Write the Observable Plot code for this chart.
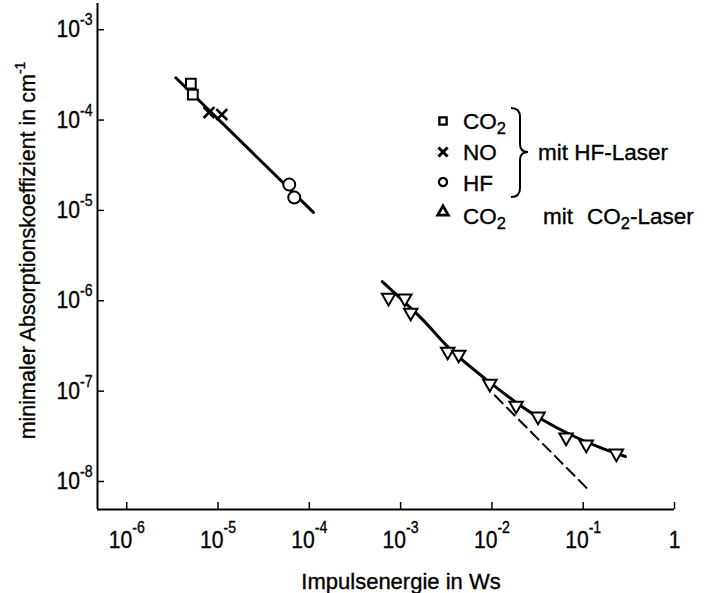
<!DOCTYPE html>
<html><head><meta charset="utf-8">
<script src="https://cdn.jsdelivr.net/npm/d3@7"></script>
<script src="https://cdn.jsdelivr.net/npm/@observablehq/plot@0.6"></script>
<style>body{margin:0;background:#fff;} #chart svg{display:block;} #chart svg text{stroke:black;stroke-width:0.35px;}</style>
</head><body><div id="chart"></div>
<script>
// --- HF-laser measurements (pulse energy in Ws, min. absorption coefficient in cm^-1)
const co2HF_E = [5.04e-6, 5.3e-6];
const co2HF_A = [2.53e-4, 1.91e-4];
const noHF_E = [7.96e-6, 1.1e-5];
const noHF_A = [1.21e-4, 1.15e-4];
const hfHF_E = [6.03e-5, 6.84e-5];
const hfHF_A = [1.93e-5, 1.39e-5];
const hfFitE = [3.45e-6, 1.11e-4];
const hfFitA = [2.94e-4, 9.5e-6];
// --- CO2-laser measurements
const co2L_E = [7.38e-4, 1.11e-3, 1.29e-3, 3.28e-3, 4.33e-3, 9.5e-3, 1.84e-2, 3.2e-2, 6.5e-2, 0.108, 0.231];
const co2L_A = [1.08e-6, 1.06e-6, 7.4e-7, 2.74e-7, 2.54e-7, 1.21e-7, 6.93e-8, 5.24e-8, 3.07e-8, 2.57e-8, 2.04e-8];
const co2FitE = [6.3e-4, 1.7e-3, 3.63e-3, 9.5e-3, 1.84e-2, 3.54e-2, 7.57e-2, 0.162, 0.29];
const co2FitA = [1.63e-6, 6.35e-7, 2.81e-7, 1.25e-7, 7.5e-8, 4.85e-8, 3.23e-8, 2.32e-8, 1.89e-8];
const extrapE = [1.08e-2, 0.119];
const extrapA = [8.93e-8, 7.75e-9];
// --- axes
const xTicks = [1e-6, 1e-5, 1e-4, 1e-3, 1e-2, 1e-1, 1];
const yTicks = [1e-8, 1e-7, 1e-6, 1e-5, 1e-4, 1e-3];
const xDomain = [Math.pow(10, -6.32), 1];
const yDomain = [Math.pow(10, -8.31), Math.pow(10, -2.71)];
const xTitle = "Impulsenergie in Ws";
const yTitle = "minimaler Absorptionskoeffizient in cm";
const yTitleSup = "-1";
// --- legend
const legendSymbols = ["square", "times", "circle", "triangle"];
const legendNames = [["CO", "2"], ["NO", ""], ["HF", ""], ["CO", "2"]];
const groupLabel1 = "mit HF-Laser";
const groupLabel2 = ["mit", "CO", "2", "-Laser"];

const pts = (X, Y) => X.map((x, i) => ({x, y: Y[i]}));
const FONT = "'Liberation Sans', Arial, Helvetica, sans-serif";
const fmt = d => d === 1 ? "1" : "10^" + Math.round(Math.log10(d));

const W = 704, H = 593;
const mL = 97, mR = 30, mT = 3, mB = 84;

const plot = Plot.plot({
  width: W, height: H,
  marginLeft: mL, marginRight: mR, marginTop: mT, marginBottom: mB,
  style: {fontFamily: FONT, background: "white", color: "black"},
  x: {type: "log", domain: xDomain, axis: null},
  y: {type: "log", domain: yDomain, axis: null},
  marks: [
    Plot.ruleX([xDomain[0]], {stroke: "black", strokeWidth: 2}),
    Plot.ruleY([yDomain[0]], {stroke: "black", strokeWidth: 2}),
    Plot.tickX(xTicks, {x: d => d, insetTop: (H - mT - mB) - 7, stroke: "black", strokeWidth: 1.5}),
    Plot.tickY(yTicks, {y: d => d, insetRight: (W - mL - mR) - 7, stroke: "black", strokeWidth: 1.5}),
    Plot.axisX(xTicks, {anchor: "bottom", tickSize: 0, tickPadding: 21, fontSize: 24, tickFormat: fmt, label: null}),
    Plot.axisY(yTicks, {anchor: "left", tickSize: 0, tickPadding: 5, fontSize: 24, tickFormat: fmt, label: null}),
    Plot.text([xTitle], {frameAnchor: "bottom", text: d => d, textAnchor: "middle", dx: 15, dy: 72, fontSize: 22, lineAnchor: "middle"}),
    Plot.text([yTitle], {frameAnchor: "left", text: d => d, textAnchor: "middle", rotate: -90, dx: -69, dy: -6, fontSize: 21.5, lineAnchor: "middle"}),
    // fitted lines
    Plot.line(pts(hfFitE, hfFitA), {x: "x", y: "y", stroke: "black", strokeWidth: 3}),
    Plot.line(pts(co2FitE, co2FitA), {x: "x", y: "y", stroke: "black", strokeWidth: 3, curve: "catmull-rom"}),
    Plot.line(pts(extrapE, extrapA), {x: "x", y: "y", stroke: "black", strokeWidth: 2, strokeDasharray: "11,6"}),
    // markers
    Plot.dot(pts(co2HF_E, co2HF_A), {x: "x", y: "y", symbol: "square", r: 5.5, fill: "white", stroke: "black", strokeWidth: 2}),
    Plot.dot(pts(noHF_E, noHF_A), {x: "x", y: "y", symbol: "times", r: 5, stroke: "black", strokeWidth: 2.5}),
    Plot.dot(pts(hfHF_E, hfHF_A), {x: "x", y: "y", symbol: "circle", r: 6, fill: "white", stroke: "black", strokeWidth: 2}),
    Plot.dot(pts(co2L_E, co2L_A), {x: "x", y: "y", symbol: "triangle", rotate: 180, r: 5, fill: "white", stroke: "black", strokeWidth: 2})
  ]
});

const root = document.getElementById("chart");
root.appendChild(plot);
const svgEl = plot.tagName.toLowerCase() === "svg" ? plot : plot.querySelector("svg");
const NS = "http://www.w3.org/2000/svg";

function supify(el, base, exp, raise, size) {
  el.textContent = "";
  const t1 = document.createElementNS(NS, "tspan");
  t1.textContent = base;
  el.appendChild(t1);
  if (exp) {
    const t2 = document.createElementNS(NS, "tspan");
    t2.setAttribute("dy", -raise);
    t2.style.fontSize = size + "px";
    t2.textContent = exp;
    el.appendChild(t2);
  }
}
svgEl.querySelectorAll("text").forEach(t => {
  const s = t.textContent;
  if (s.indexOf("^") >= 0 || s === "1") {
    const [b, e] = s.split("^");
    const anchorEl = t.closest("[text-anchor]");
    const isY = anchorEl && anchorEl.getAttribute("text-anchor") === "end";
    t.style.fontSize = "24px";
    supify(t, b, e, isY ? 12 : 15, 16);
    const tr = t.getAttribute("transform");
    if (tr) t.setAttribute("transform", tr + " scale(0.88,1)");
  } else if (s === yTitle) {
    supify(t, s, yTitleSup, 10, 14);
  }
});

// legend
const svg = d3.select(svgEl);
const lg = svg.append("g").attr("font-family", FONT).attr("font-size", 22.5).attr("fill", "black").attr("text-anchor", "start");
const rowY = [121, 152, 182, 212];
const rowBase = [129, 160, 191, 224];
const symMap = {square: d3.symbolSquare, times: d3.symbolTimes, circle: d3.symbolCircle, triangle: d3.symbolTriangle};
const symSize = {square: 52, times: 56, circle: 52, triangle: 48};
const symStroke = {square: 2.4, times: 3, circle: 2.2, triangle: 2.8};
legendSymbols.forEach((s, i) => {
  lg.append("path")
    .attr("d", d3.symbol(symMap[s], symSize[s])())
    .attr("transform", `translate(443,${rowY[i]})`)
    .attr("fill", s === "times" ? "none" : "white")
    .attr("stroke", "black").attr("stroke-width", symStroke[s]);
  const t = lg.append("text").attr("x", 463).attr("y", rowBase[i]);
  t.append("tspan").text(legendNames[i][0]);
  if (legendNames[i][1]) t.append("tspan").attr("dy", 5).attr("font-size", 16.5).text(legendNames[i][1]);
});
lg.append("path")
  .attr("d", "M511,108 Q520,108 520,117 L520,144 Q520,152 528,152 Q520,152 520,160 L520,188 Q520,197 511,197")
  .attr("fill", "none").attr("stroke", "black").attr("stroke-width", 2);
lg.append("text").attr("x", 538).attr("y", 160).text(groupLabel1);
const g2 = lg.append("text").attr("x", 543).attr("y", 224);
g2.append("tspan").text(groupLabel2[0]);
g2.append("tspan").attr("dx", 14).text(groupLabel2[1]);
g2.append("tspan").attr("dy", 5).attr("font-size", 16.5).text(groupLabel2[2]);
g2.append("tspan").attr("dy", -5).text(groupLabel2[3]);
</script>
</body></html>
